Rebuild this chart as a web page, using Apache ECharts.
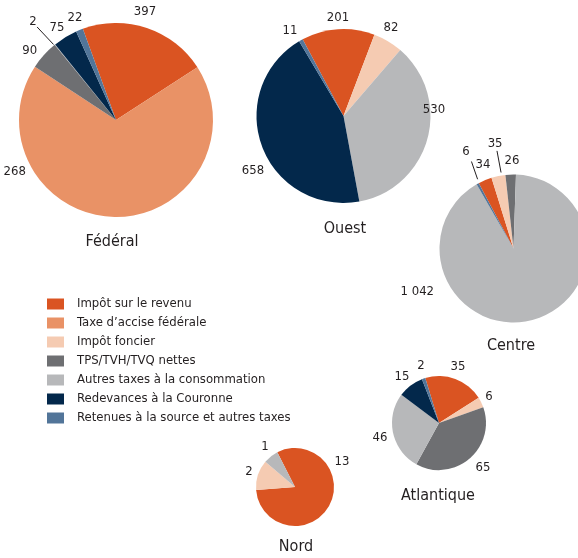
<!DOCTYPE html>
<html><head><meta charset="utf-8">
<script src="https://cdn.jsdelivr.net/npm/echarts@6/dist/echarts.min.js"></script>
<style>html,body{margin:0;padding:0;background:#fff;}#c{width:578px;height:558px;}</style>
</head><body><div id="c"></div>
<script>
// ---- data ----
const categories = ["Impôt sur le revenu","Taxe d’accise fédérale","Impôt foncier","TPS/TVH/TVQ nettes","Autres taxes à la consommation","Redevances à la Couronne","Retenues à la source et autres taxes"];
const regions = ["Fédéral","Ouest","Centre","Atlantique","Nord"];
const federal    = [397, 1268, 0, 90, 2, 75, 22];
const ouest      = [201, 0, 82, 0, 530, 658, 11];
const centre     = [34, 0, 35, 26, 1042, 0, 6];
const atlantique = [35, 0, 6, 65, 46, 15, 2];
const nord       = [13, 0, 2, 0, 1, 0, 0];
const regionValues = [federal, ouest, centre, atlantique, nord];

// ---- styles / layout ----
const FONT = '"DejaVu Sans Condensed","Liberation Sans",sans-serif';
const TXT = '#231F20';
const colors = ['#DA5422','#E99266','#F5CBB2','#6E6F72','#B7B8BA','#03284B','#527599'];
// label placement: category index -> [angle clockwise from top, distance from centre, align, linePoints(polar)]
const layouts = [
  {center:[116,120], r:97, start:110, title:[112,242],
   labels:{0:[15,112],1:[240,104,'right'],3:[309,111],4:[320,129,'center',[[319.7,122],[320.4,98]]],5:[327.3,109.3],6:[338.1,110]}},
  {center:[343.5,116], r:87, start:118, title:[345,229],
   labels:{0:[356.8,98.2],2:[28.4,100],4:[86.2,90.7],5:[238.7,105.9],6:[327.8,100.4]}},
  {center:[513.5,248.5], r:74, start:118, title:[511,346],
   labels:{0:[339.9,88.9],2:[350,106.1,'center',[[350.4,99],[350.7,77]]],3:[359,87.5],4:[241.3,90.6,'right'],6:[333.8,107.6,'center',[[334.2,96.6],[332.6,78]]]}},
  {center:[439,423], r:47, start:107, title:[438,496],
   labels:{0:[18.7,59.1],2:[62.5,56.4],3:[135.6,62.9],4:[255.7,60.9],5:[321.2,59],6:[342.5,59.8]}},
  {center:[295,487], r:39, start:117, title:[296,547],
   labels:{0:[62,53.2],2:[288.1,48.4],4:[323.1,50]}}
];
function polar(L, a, d){
  const t = a*Math.PI/180;
  return [L.center[0] + d*Math.sin(t), L.center[1] - d*Math.cos(t)];
}
function fmt(v){ return String(v).replace(/\B(?=(\d{3})+(?!\d))/g, ' '); }

const seriesData = regionValues.map(vals => {
  const out = [];
  vals.forEach((v,i) => { if (v > 0) out.push({name: categories[i], value: v, cat: i,
      itemStyle:{color: colors[i]}}); });
  return out;
});

const series = layouts.map((L, si) => ({
  type: 'pie',
  name: regions[si],
  center: L.center,
  radius: [0, L.r],
  startAngle: L.start,
  clockwise: true,
  avoidLabelOverlap: false,
  minShowLabelAngle: 0,
  silent: true,
  animation: false,
  itemStyle: {borderWidth: 0},
  emphasis: {disabled: true},
  label: {show: true, position: 'outside', fontFamily: FONT, fontSize: 13, color: TXT,
          formatter: p => fmt(p.value)},
  labelLine: {show: false, lineStyle: {color: TXT, width: 1}},
  data: seriesData[si].map(d => {
    const cfg = L.labels[d.cat];
    const o = Object.assign({}, d);
    delete o.cat;
    if (cfg && cfg[3]) o.labelLine = {show: true};
    return o;
  }),
  labelLayout: function(p){
    const item = seriesData[si][p.dataIndex];
    const cfg = L.labels[item.cat];
    const pt = polar(L, cfg[0], cfg[1]);
    const res = {x: pt[0], y: pt[1], align: cfg[2] || 'center', verticalAlign: 'middle'};
    if (cfg[3]) {
      const a = polar(L, cfg[3][0][0], cfg[3][0][1]);
      const b = polar(L, cfg[3][1][0], cfg[3][1][1]);
      res.labelLinePoints = [a, a, b];
    }
    return res;
  }
}));

const chart = echarts.init(document.getElementById('c'), null, {renderer: 'canvas'});
chart.setOption({
  backgroundColor: '#fff',
  animation: false,
  color: colors,
  legend: {
    data: categories,
    orient: 'vertical',
    left: 42, top: 291,
    itemWidth: 17, itemHeight: 11, itemGap: 3,
    icon: 'rect',
    selectedMode: false,
    textStyle: {fontFamily: FONT, fontSize: 13, color: TXT, lineHeight: 16, padding: [0,0,0,8]}
  },
  graphic: layouts.map((L, i) => ({
    type: 'text', x: L.title[0], y: L.title[1], silent: true,
    style: {text: regions[i], textAlign: 'center', textVerticalAlign: 'middle',
            font: '16px ' + FONT, fill: TXT}
  })),
  series: series
});
</script>
</body></html>
